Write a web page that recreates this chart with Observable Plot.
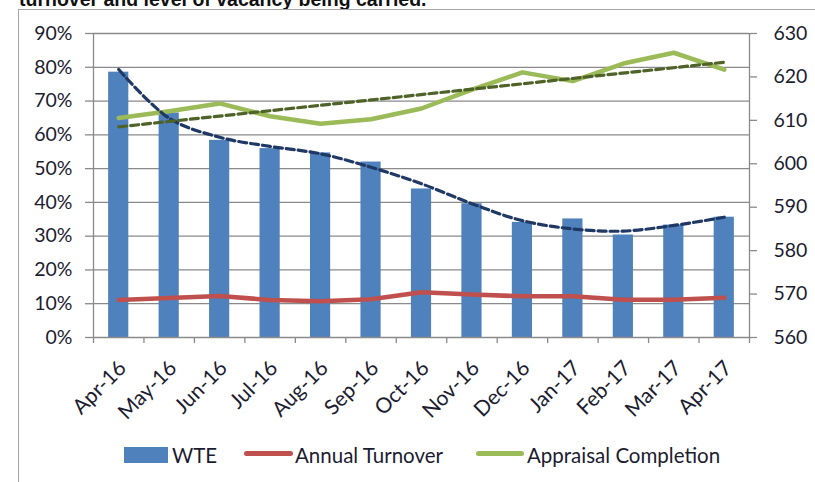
<!DOCTYPE html>
<html>
<head>
<meta charset="utf-8">
<script src="https://cdn.jsdelivr.net/npm/d3@7"></script>
<script src="https://cdn.jsdelivr.net/npm/@observablehq/plot@0.6"></script>
<style>
  html, body { margin: 0; padding: 0; background: #fff; }
  #wrap { position: relative; width: 815px; height: 482px; overflow: hidden; background: #fff; }
  #toptext { position: absolute; left: 19px; top: -12px; font: bold 19.5px "Liberation Sans", Arial, sans-serif; color: #111; white-space: nowrap; }
  #frame { position: absolute; left: 18px; top: 8.5px; width: 900px; height: 600px; border: 1.5px solid #a6a6a6; box-sizing: border-box; background: #fff; }
  #chart { position: absolute; left: 0; top: 0; }
  .leg { position: absolute; font: 20.5px Lato, sans-serif; color: #1c1c30; white-space: nowrap; line-height: 1; }
  .sw { position: absolute; }
</style>
</head>
<body>
<div id="wrap">
  <div id="toptext">turnover and level of vacancy being carried.</div>
  <div id="frame"></div>
  <div id="chart"></div>
  <div id="legend"></div>
</div>
<script>
const months = ["Apr-16","May-16","Jun-16","Jul-16","Aug-16","Sep-16","Oct-16","Nov-16","Dec-16","Jan-17","Feb-17","Mar-17","Apr-17"];
const wte = [621.1, 611.7, 605.4, 603.5, 602.5, 600.4, 594.2, 590.8, 586.5, 587.3, 583.6, 585.9, 587.7];
const turnover = [11.1, 11.7, 12.3, 11.1, 10.7, 11.3, 13.4, 12.7, 12.2, 12.2, 11.2, 11.2, 11.8];
const appraisal = [65.0, 67.0, 69.3, 65.5, 63.3, 64.6, 67.8, 73.4, 78.5, 75.9, 81.1, 84.3, 79.3];
const wteTrend = [621.7, 610.5, 606.1, 604.0, 602.3, 599.2, 595.4, 590.8, 586.9, 585.0, 584.5, 585.8, 587.7];
const pctTicks = [0, 10, 20, 30, 40, 50, 60, 70, 80, 90];
const wteTicks = [560, 570, 580, 590, 600, 610, 620, 630];
const seriesNames = ["WTE", "Annual Turnover", "Appraisal Completion"];
const seriesColors = ["#4f81bd", "#c0504d", "#9bbb59"];

const wMin = 560, wMax = 630, pMax = 90;
const k = pMax / (wMax - wMin);
const data = months.map((m, i) => ({
  i, m,
  wp: (wte[i] - wMin) * k,
  tr: (wteTrend[i] - wMin) * k,
  t: turnover[i],
  a: appraisal[i]
}));
const grid = "#8a8a8a";

const chart = Plot.plot({
  width: 815,
  height: 430,
  marginLeft: 93,
  marginRight: 66,
  marginTop: 33,
  marginBottom: 93,
  x: { domain: [-0.5, months.length - 0.5], axis: null, label: null },
  y: { domain: [0, pMax], axis: null, label: null },
  style: { fontFamily: "Lato, sans-serif", fontSize: "19.5px", color: "#1c1c30", background: "transparent", overflow: "visible" },
  marks: [
    Plot.ruleY(pctTicks.slice(1), { stroke: grid, strokeWidth: 1.3 }),
    Plot.rectY(data, { x1: d => d.i - 0.2, x2: d => d.i + 0.2, y1: 0, y2: "wp", fill: seriesColors[0] }),
    Plot.line(data, { x: "i", y: "t", stroke: seriesColors[1], strokeWidth: 4.5 }),
    Plot.line(data, { x: "i", y: "a", stroke: seriesColors[2], strokeWidth: 4.5 }),
    Plot.line(data, { x: "i", y: "tr", stroke: "#1f3864", strokeWidth: 3.2, strokeDasharray: "8,4", curve: "catmull-rom" }),
    Plot.linearRegressionY(data, { x: "i", y: "a", ci: 0, stroke: "#4f6228", strokeWidth: 3.2, strokeDasharray: "8,4" }),
    Plot.ruleY([0], { stroke: grid, strokeWidth: 1.3 }),
    Plot.ruleX([-0.5, months.length - 0.5], { stroke: grid, strokeWidth: 1.3 }),
    Plot.axisX(d3.range(-0.5, months.length, 1), { tickSize: 6, tickFormat: () => "", label: null, stroke: grid, strokeWidth: 1.3 }),
    Plot.axisY(pctTicks, { anchor: "left", tickSize: 8, tickPadding: 13, label: null, tickFormat: d => d + "%", stroke: grid, strokeWidth: 1.3 }),
    Plot.axisY(wteTicks.map(v => (v - wMin) * k), { anchor: "right", tickSize: 7, tickPadding: 17, label: null, tickFormat: d => String(Math.round(wMin + d / k)), stroke: grid, strokeWidth: 1.3 }),
    Plot.text(data, { x: "i", y: 0, text: "m", rotate: -45, textAnchor: "end", fontSize: 21, dx: 4, dy: 27, fill: "#1c1c30" })
  ]
});
document.getElementById("chart").appendChild(chart);

// legend
const leg = document.getElementById("legend");
const legItems = [
  { sw: { left: 124, top: 447, width: 44, height: 16, radius: 0 }, textLeft: 172 },
  { sw: { left: 244, top: 450.5, width: 49, height: 5, radius: 3 }, textLeft: 295 },
  { sw: { left: 476, top: 450.5, width: 48, height: 5, radius: 3 }, textLeft: 527 }
];
legItems.forEach((it, j) => {
  const s = document.createElement("div");
  s.className = "sw";
  Object.assign(s.style, { left: it.sw.left + "px", top: it.sw.top + "px", width: it.sw.width + "px", height: it.sw.height + "px", background: seriesColors[j], borderRadius: it.sw.radius + "px" });
  leg.appendChild(s);
  const t = document.createElement("div");
  t.className = "leg";
  t.textContent = seriesNames[j];
  Object.assign(t.style, { left: it.textLeft + "px", top: "445px" });
  leg.appendChild(t);
});
</script>
</body>
</html>
